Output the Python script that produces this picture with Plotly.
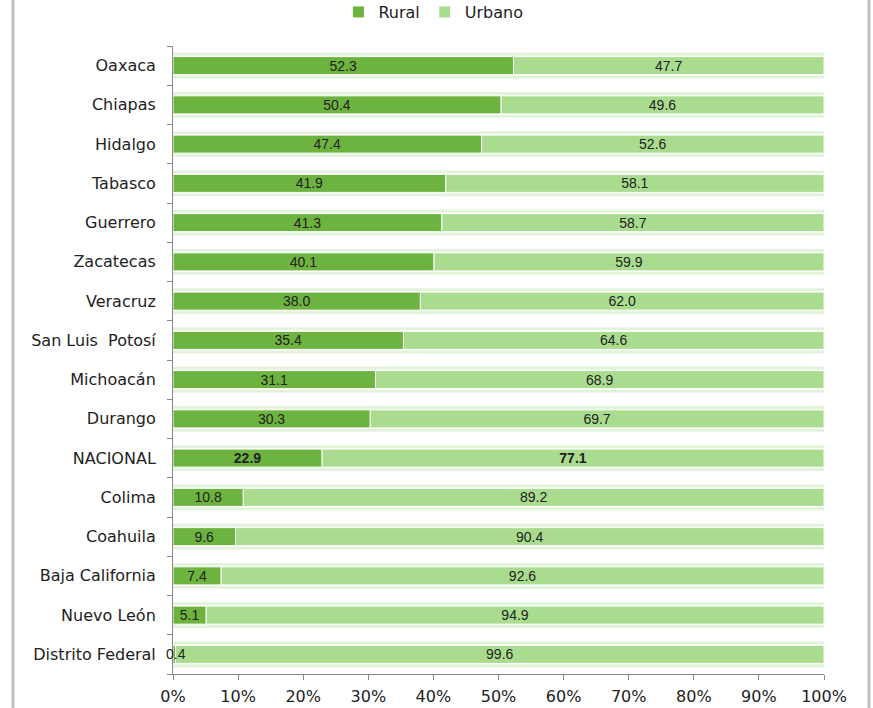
import plotly.graph_objects as go

estados = ["Oaxaca", "Chiapas", "Hidalgo", "Tabasco", "Guerrero", "Zacatecas",
           "Veracruz", "San Luis  Potosí", "Michoacán", "Durango", "NACIONAL",
           "Colima", "Coahuila", "Baja California", "Nuevo León", "Distrito Federal"]
rural = [52.3, 50.4, 47.4, 41.9, 41.3, 40.1, 38.0, 35.4, 31.1, 30.3, 22.9,
         10.8, 9.6, 7.4, 5.1, 0.4]
urbano = [47.7, 49.6, 52.6, 58.1, 58.7, 59.9, 62.0, 64.6, 68.9, 69.7, 77.1,
          89.2, 90.4, 92.6, 94.9, 99.6]
tick_vals = [0, 10, 20, 30, 40, 50, 60, 70, 80, 90, 100]
tick_text = [f"{v}%" for v in tick_vals]

RURAL_C = "#6db33f"
URB_C = "#a9dc8e"
TXT_FONT = dict(color="#222222", size=14, family="Liberation Sans")


def fmt(vals, cats):
    out = []
    for v, c in zip(vals, cats):
        s = f"{v:.1f}"
        out.append(f"<b>{s}</b>" if c == "NACIONAL" else s)
    return out


small = [v < 2 for v in rural]

fig = go.Figure()
# soft glow behind bars
fig.add_trace(go.Bar(y=estados, x=rural, base=[0] * len(rural), orientation="h",
                     width=0.66, marker=dict(color="rgba(109,179,63,0.18)", line=dict(width=0)),
                     showlegend=False, hoverinfo="skip"))
fig.add_trace(go.Bar(y=estados, x=urbano, base=rural, orientation="h",
                     width=0.66, marker=dict(color="rgba(169,220,142,0.35)", line=dict(width=0)),
                     showlegend=False, hoverinfo="skip"))
# white gap band
fig.add_trace(go.Bar(y=estados, x=[r + u for r, u in zip(rural, urbano)], base=[0] * len(rural),
                     orientation="h", width=0.52, marker=dict(color="rgba(255,255,255,0.85)", line=dict(width=0)),
                     showlegend=False, hoverinfo="skip"))

fig.add_trace(go.Bar(
    y=estados, x=rural, base=[0] * len(rural), name="Rural", orientation="h",
    marker=dict(color=RURAL_C, line=dict(color="white", width=1)),
    text=fmt(rural, estados),
    textposition=["none" if s else "inside" for s in small],
    insidetextanchor="middle", textfont=TXT_FONT,
    constraintext="none", width=0.46,
))
fig.add_trace(go.Bar(
    y=estados, x=urbano, base=rural, name="Urbano", orientation="h",
    marker=dict(color=URB_C, line=dict(color="white", width=1)),
    text=fmt(urbano, estados), textposition="inside", insidetextanchor="middle",
    textfont=TXT_FONT, constraintext="none", width=0.46,
))

for v, c, s in zip(rural, estados, small):
    if s:
        fig.add_annotation(x=v, y=c, text=f"{v:.1f}", showarrow=False,
                           xanchor="center", font=TXT_FONT)

fig.update_layout(
    width=873, height=708,
    barmode="overlay",
    margin=dict(l=173, r=49, t=46, b=34, autoexpand=False),
    paper_bgcolor="white", plot_bgcolor="white",
    font=dict(family="DejaVu Sans", size=16, color="#222222"),
    legend=dict(orientation="h", x=0.40, xanchor="center", y=0.983, yref="container",
                yanchor="middle", font=dict(size=16), traceorder="normal"),
    showlegend=True,
)
fig.update_xaxes(range=[0, 100], tickvals=tick_vals, ticktext=tick_text,
                 showgrid=False, showline=True, linecolor="#888888", linewidth=1,
                 ticks="outside", ticklen=5, tickcolor="#888888", automargin=False,
                 tickfont=dict(size=16), zeroline=False, ticklabelstandoff=3)
fig.update_yaxes(categoryorder="array", categoryarray=estados[::-1],
                 showgrid=False, showline=True, linecolor="#888888", linewidth=1,
                 ticks="outside", ticklen=5, tickcolor="#888888", automargin=False,
                 tickson="boundaries", tickfont=dict(size=16), ticklabelstandoff=13)

fig.add_shape(type="line", xref="paper", yref="paper", x0=-0.2458, x1=-0.2458,
              y0=-0.06, y1=1.08, line=dict(color="#c0c0c0", width=3))
fig.add_shape(type="line", xref="paper", yref="paper", x0=1.0691, x1=1.0691,
              y0=-0.06, y1=1.08, line=dict(color="#c0c0c0", width=3))

fig.write_html("out.html", config={"displayModeBar": False},
               post_script="document.body.style.margin='0';")
